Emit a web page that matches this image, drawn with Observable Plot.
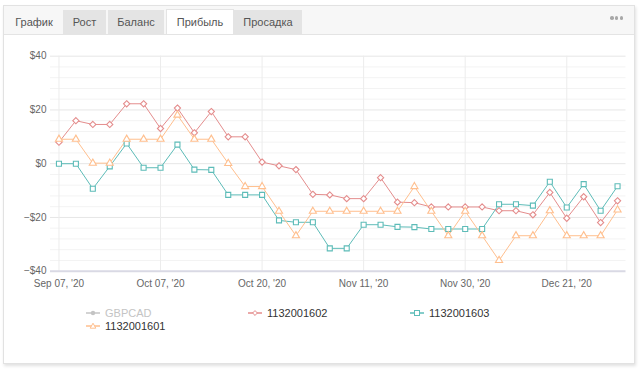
<!DOCTYPE html>
<html>
<head>
<meta charset="utf-8">
<script src="https://cdn.jsdelivr.net/npm/d3@7"></script>
<script src="https://cdn.jsdelivr.net/npm/@observablehq/plot@0.6"></script>
<style>
  html, body { margin: 0; padding: 0; background: #fff; }
  body { width: 643px; height: 370px; position: relative; overflow: hidden;
         font-family: "Liberation Sans", Arial, sans-serif; }
  .card { position: absolute; left: 3px; top: 5px; width: 630px; height: 357px;
          border: 1px solid #e2e2e2; background: #fff;
          box-shadow: 1px 2px 3px rgba(0,0,0,0.12); }
  .header { position: absolute; left: 4px; top: 6px; width: 630px; height: 28px;
            background: #f7f7f7; border-bottom: 1px solid #e4e4e4; }
  .tab { position: absolute; top: 10px; height: 24px; line-height: 24px;
         font-size: 11px; color: #555; text-align: center; background: #e4e4e4; }
  .tab.plain { background: transparent; }
  .tab.active { background: #fff; border: 1px solid #e4e4e4; border-bottom: none; height: 24px; top: 9px; }
  .dots { position: absolute; top: 16px; left: 610px; display: flex; gap: 1.3px; line-height: 0; }
  .dots span { display: block; width: 3.6px; height: 3.6px; border-radius: 50%; background: #a8a8a8; }
  #chart { position: absolute; left: 0; top: 36px; }
  .leg { position: absolute; font-size: 11px; color: #333; white-space: nowrap; }
  .leg svg { position: absolute; left: 0; top: 0; }
  .leg span { position: absolute; top: 0; line-height: 12px; }
</style>
</head>
<body>
<div class="card"></div>
<div class="header"></div>
<div class="tab plain" style="left:8px;width:52px;">График</div>
<div class="tab" style="left:63px;width:43px;">Рост</div>
<div class="tab" style="left:108px;width:56px;">Баланс</div>
<div class="tab active" style="left:166px;width:66px;">Прибыль</div>
<div class="tab" style="left:234px;width:68px;">Просадка</div>
<div class="dots"><span></span><span></span><span></span></div>
<div id="chart"></div>
<div id="legend"></div>
<script>
// Profit per account, one value per trading session (dollars)
const sessions = [0, 1, 2, 3, 4, 5, 6, 7, 8, 9, 10, 11, 12, 13, 14, 15, 16,
                  17, 18, 19, 20, 21, 22, 23, 24, 25, 26, 27, 28, 29, 30, 31, 32, 33];
const tickSessions = [0, 6, 12, 18, 24, 30];
const tickLabels = ["Sep 07, '20", "Oct 07, '20", "Oct 20, '20", "Nov 11, '20", "Nov 30, '20", "Dec 21, '20"];
const yTicks = [-40, -20, 0, 20, 40];

const acc1602 = [8, 16, 14.6, 14.6, 22.3, 22.3, 13.1, 20.7, 11.5, 19.4, 10, 10, 0.6, -0.8, -2.2,
                 -11.4, -11.6, -13, -13, -5.2, -14.3, -14.5, -16.1, -16.1, -16.1, -16.1, -17.5,
                 -17.5, -19, -10.7, -20.3, -12.3, -21.9, -13.8];
const acc1603 = [0, 0, -9.3, -1, 7.5, -1.5, -1.5, 7.1, -2.2, -2.3, -11.6, -11.6, -11.6, -21.1,
                 -21.8, -21.8, -31.5, -31.5, -22.7, -22.7, -23.5, -23.6, -24.3, -24.3, -24.3,
                 -24.3, -15.1, -15.1, -15.6, -6.7, -16.3, -7.6, -17.5, -8.4];
const acc1601 = [9.1, 9.1, 0.2, 0.2, 9.1, 9.1, 9.1, 18.1, 9.1, 9.1, 0.1, -8.5, -8.5, -17.7,
                 -26.8, -17.7, -17.7, -17.7, -17.7, -17.7, -17.7, -8.5, -17.7, -26.8, -17.7,
                 -26.8, -36, -26.8, -26.8, -17.5, -26.8, -26.8, -26.8, -17.2];

const seriesNames = ["GBPCAD", "1132001602", "1132001603", "1132001601"];
const seriesColors = ["#c4c4c4", "#e48d8d", "#5dbcb8", "#ffbf8e"];
const seriesSymbols = ["circle", "diamond2", "square2", "triangle2"];

const plotted = [
  {name: "1132001602", values: acc1602, color: seriesColors[1], symbol: "diamond2", r: 2.8},
  {name: "1132001603", values: acc1603, color: seriesColors[2], symbol: "square2", r: 3.2},
  {name: "1132001601", values: acc1601, color: seriesColors[3], symbol: "triangle2", r: 3.4}
];

const minorGrid = d3.range(-36, 40, 4).filter(v => v % 20 !== 0);
const fmtMoney = v => (v < 0 ? "\u2212$" : "$") + Math.abs(v);

const marks = [
  Plot.ruleY(minorGrid, {stroke: "#f3f3f3"}),
  Plot.ruleY(yTicks.filter(v => v > -40), {stroke: "#e6e6e6"}),
  Plot.ruleX(tickSessions, {stroke: "#ececec"}),
  Plot.ruleY([-40], {stroke: "#d9d9e4", strokeWidth: 2}),
  Plot.axisY(yTicks, {tickSize: 0, tickPadding: 4, tickFormat: fmtMoney}),
  Plot.axisX(tickSessions, {tickSize: 0, tickPadding: 9,
    tickFormat: d => tickLabels[tickSessions.indexOf(d)]})
];
for (const s of plotted) {
  marks.push(Plot.line(s.values, {x: (d, i) => sessions[i], y: d => d, stroke: s.color, strokeWidth: 1}));
}
for (const s of plotted) {
  marks.push(Plot.dot(s.values, {x: (d, i) => sessions[i], y: d => d, symbol: s.symbol,
    r: s.r, stroke: s.color, fill: "#fff", strokeWidth: 1.1}));
}

const chart = Plot.plot({
  width: 643, height: 260,
  marginLeft: 50, marginRight: 17.5, marginTop: 19.7, marginBottom: 25.3,
  x: {type: "linear", domain: [-0.5, 33.5], axis: null},
  y: {domain: [-40, 40], axis: null},
  style: {fontFamily: "'Liberation Sans', Arial, sans-serif", fontSize: "10px",
          color: "#666", background: "transparent", overflow: "visible"},
  marks
});
document.getElementById("chart").append(chart);

// Legend below the chart
const legendPos = [[86, 307], [248, 307], [410, 307], [86, 320]];
const legend = document.getElementById("legend");
seriesNames.forEach((name, k) => {
  const [lx, ly] = legendPos[k];
  const c = seriesColors[k];
  const item = document.createElement("div");
  item.className = "leg";
  item.style.left = lx + "px";
  item.style.top = ly + "px";
  let marker;
  if (seriesSymbols[k] === "circle") marker = `<circle cx="7" cy="6" r="2.2" fill="${c}"/>`;
  else if (seriesSymbols[k] === "diamond2") marker = `<path d="M7 3.6L9.4 6L7 8.4L4.6 6Z" fill="#fff" stroke="${c}"/>`;
  else if (seriesSymbols[k] === "square2") marker = `<rect x="4.5" y="3.5" width="5" height="5" fill="#fff" stroke="${c}"/>`;
  else marker = `<path d="M7 3.2L9.8 8.2L4.2 8.2Z" fill="#fff" stroke="${c}"/>`;
  item.innerHTML = `<svg width="15" height="12"><line x1="0" x2="14" y1="6" y2="6" stroke="${c}" stroke-width="1.5"/>${marker}</svg>` +
    `<span style="left:19px;${k === 0 ? "color:#c4c4c4;" : ""}">${name}</span>`;
  legend.append(item);
});
</script>
</body>
</html>
